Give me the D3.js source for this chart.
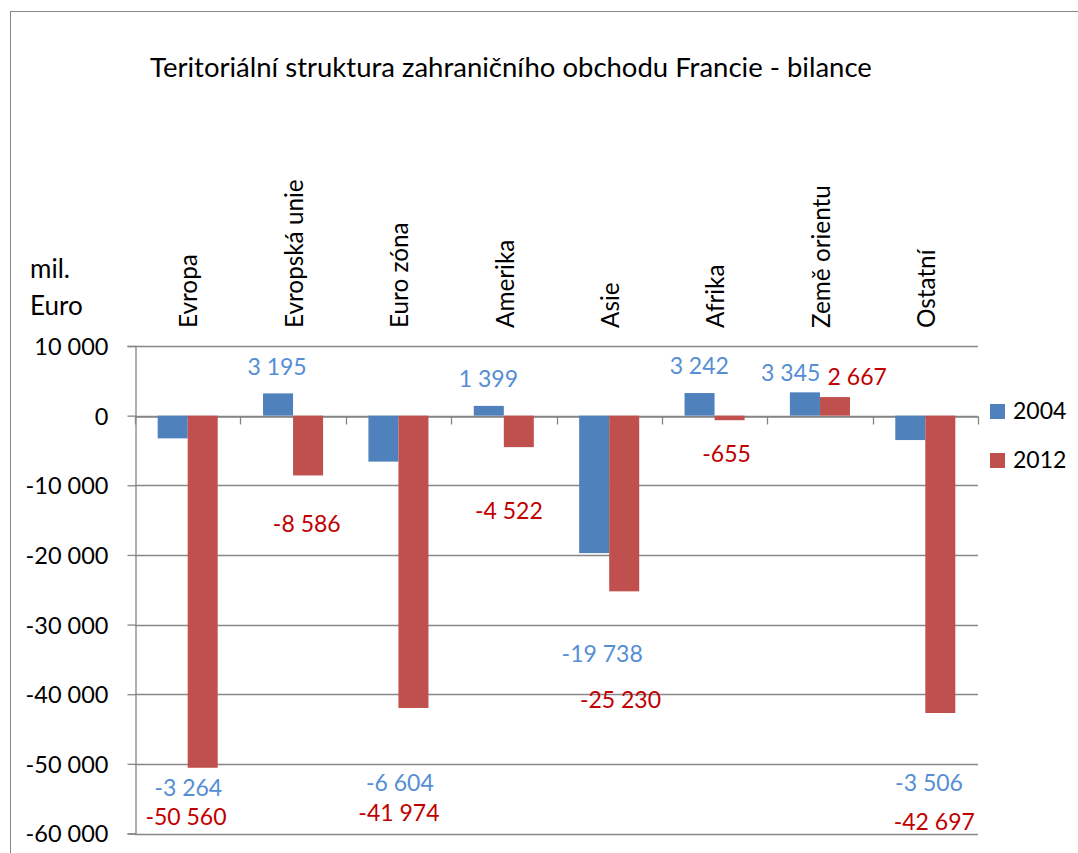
<!DOCTYPE html>
<html>
<head>
<meta charset="utf-8">
<script src="https://cdn.jsdelivr.net/npm/d3@7"></script>
<style>
  body { margin: 0; background: #fff; }
  svg { display: block; font-family: Lato, "Open Sans", sans-serif; }
</style>
</head>
<body>
<svg id="chart" width="1078" height="853"></svg>
<script>
// data (mil. Euro)
var categories = ["Evropa", "Evropská unie", "Euro zóna", "Amerika", "Asie", "Afrika", "Země orientu", "Ostatní"];
var series = ["2004", "2012"];
var values2004 = [-3264, 3195, -6604, 1399, -19738, 3242, 3345, -3506];
var values2012 = [-50560, -8586, -41974, -4522, -25230, -655, 2667, -42697];
var yTickValues = [10000, 0, -10000, -20000, -30000, -40000, -50000, -60000];

// hand-placed data labels: x shift from category centre (px), y in value units
var labelShift2004 = [0.6, -16, 1.4, -15.4, -7, -15.3, -29.2, 3.7];
var labelAt2004 = [-53450, 7040, -52730, 5320, -34200, 7180, 6220, -52690];
var labelShift2012 = [-1.7, 13.7, 0.5, 5.1, 11.3, 12, 37.3, 9];
var labelAt2012 = [-57610, -15520, -57040, -13610, -40800, -5530, 5650, -58290];

var barColors = {"2004": "#4F81BD", "2012": "#C0504D"};
var labelColors = {"2004": "#558ED5", "2012": "#C00000"};
var gridColor = "#868686";

var fmt = d3.formatLocale({decimal: ",", thousands: " ", grouping: [3], currency: ["", ""], minus: "-"}).format(",d");

var svg = d3.select("#chart");

// outer chart border
svg.append("rect")
    .attr("x", 10.5).attr("y", 11.5)
    .attr("width", 1100).attr("height", 900)
    .attr("fill", "none")
    .attr("stroke", "#888")
    .attr("stroke-width", 1);

svg.append("text")
    .attr("x", 511).attr("y", 77)
    .attr("text-anchor", "middle")
    .attr("font-size", 27.5)
    .attr("fill", "#000")
    .text("Teritoriální struktura zahraničního obchodu Francie - bilance");

var x0 = d3.scaleBand().domain(categories).range([135, 978]).paddingInner(0).paddingOuter(0);
var x1 = d3.scaleBand().domain(series).range([0, x0.bandwidth()]).paddingInner(0).paddingOuter(0.755);
var y = d3.scaleLinear().domain([-60000, 10000]).range([833.5, 346]);

// gridlines
svg.append("g")
    .selectAll("line")
    .data(yTickValues)
    .enter().append("line")
    .attr("x1", 135).attr("x2", 978)
    .attr("y1", function(d) { return Math.round(y(d)) + 0.5; })
    .attr("y2", function(d) { return Math.round(y(d)) + 0.5; })
    .attr("stroke", gridColor)
    .attr("stroke-width", 1.3);

// y axis
var yAxis = d3.axisLeft(y).tickValues(yTickValues).tickSize(8).tickPadding(19).tickFormat(fmt);
var gy = svg.append("g")
    .attr("transform", "translate(135.5,0)")
    .call(yAxis);
gy.select(".domain").attr("stroke", gridColor).attr("stroke-width", 1.3);
gy.selectAll(".tick line").attr("stroke", gridColor).attr("stroke-width", 1.3);
gy.selectAll(".tick text")
    .attr("font-size", 23.5)
    .attr("font-family", "Lato, sans-serif")
    .attr("fill", "#000")
    .attr("dy", "0.36em");

// category axis at zero
var xAxis = d3.axisBottom(x0).tickValues([]).tickSize(0);
var gx = svg.append("g")
    .attr("transform", "translate(0," + (Math.round(y(0)) + 0.5) + ")")
    .call(xAxis);
gx.select(".domain").attr("stroke", gridColor).attr("stroke-width", 1.3);
gx.selectAll("line.cat")
    .data(d3.range(categories.length + 1))
    .enter().append("line")
    .attr("class", "cat")
    .attr("x1", function(i) { return Math.round(135 + i * x0.step()) + 0.5; })
    .attr("x2", function(i) { return Math.round(135 + i * x0.step()) + 0.5; })
    .attr("y1", 0).attr("y2", 8)
    .attr("stroke", gridColor)
    .attr("stroke-width", 1.3);

// category names, rotated, above the plot
svg.append("g")
    .selectAll("text")
    .data(categories)
    .enter().append("text")
    .attr("transform", function(d) {
        return "translate(" + (x0(d) + x0.bandwidth() / 2 + 1) + ",328) rotate(-90)";
    })
    .attr("dy", "0.36em")
    .attr("font-size", 24.3)
    .attr("fill", "#000")
    .text(function(d) { return d; });

var rows = [];
categories.forEach(function(c, i) {
    rows.push({cat: c, s: "2004", v: values2004[i], dx: labelShift2004[i], ly: labelAt2004[i]});
    rows.push({cat: c, s: "2012", v: values2012[i], dx: labelShift2012[i], ly: labelAt2012[i]});
});

svg.append("g")
    .selectAll("rect")
    .data(rows)
    .enter().append("rect")
    .attr("x", function(d) { return x0(d.cat) + x1(d.s); })
    .attr("width", x1.bandwidth())
    .attr("y", function(d) { return y(Math.max(0, d.v)); })
    .attr("height", function(d) { return Math.abs(y(d.v) - y(0)); })
    .attr("fill", function(d) { return barColors[d.s]; });

svg.append("g")
    .selectAll("text")
    .data(rows)
    .enter().append("text")
    .attr("x", function(d) { return x0(d.cat) + x0.bandwidth() / 2 + d.dx; })
    .attr("y", function(d) { return y(d.ly); })
    .attr("dy", "0.36em")
    .attr("text-anchor", "middle")
    .attr("font-size", 23)
    .attr("fill", function(d) { return labelColors[d.s]; })
    .text(function(d) { return fmt(d.v); });

// unit label
svg.append("text").attr("x", 30).attr("y", 278).attr("font-size", 26).attr("fill", "#000").text("mil.");
svg.append("text").attr("x", 30).attr("y", 315).attr("font-size", 26).attr("fill", "#000").text("Euro");

// legend
var legend = svg.append("g")
    .selectAll("g")
    .data(series)
    .enter().append("g")
    .attr("transform", function(d, i) { return "translate(990," + (404 + i * 49) + ")"; });
legend.append("rect")
    .attr("width", 15).attr("height", 15)
    .attr("fill", function(d) { return barColors[d]; });
legend.append("text")
    .attr("x", 23).attr("y", 15)
    .attr("font-size", 23)
    .attr("fill", "#000")
    .text(function(d) { return d; });
</script>
</body>
</html>
